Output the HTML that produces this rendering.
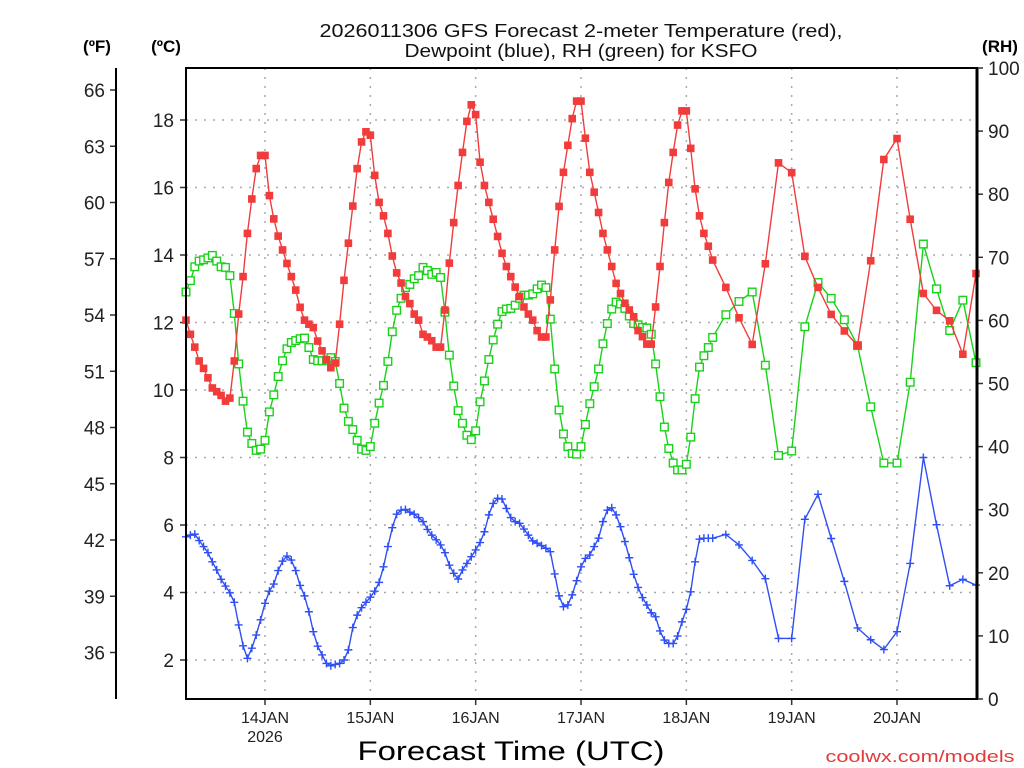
<!DOCTYPE html>
<html><head><meta charset="utf-8"><title>KSFO GFS meteogram</title>
<style>
html,body{margin:0;padding:0;background:#fff;}
svg{display:block;font-family:"Liberation Sans",sans-serif;}
</style></head>
<body>
<svg id="chart" width="1024" height="768" viewBox="0 0 1024 768" xmlns="http://www.w3.org/2000/svg">
  <rect x="0" y="0" width="1024" height="768" fill="#fff"/>
  <g id="grid"></g>
  <g id="axes"></g>
  <g id="series"></g>
  <rect x="186" y="68" width="791" height="631" fill="none" stroke="#000" stroke-width="2"/>
  <line x1="977" y1="68" x2="977" y2="699" stroke="#000" stroke-width="3"/>
  <line x1="116" y1="68" x2="116" y2="699" stroke="#000" stroke-width="2"/>
  <text x="581" y="37" font-size="18" text-anchor="middle" textLength="523" lengthAdjust="spacingAndGlyphs" fill="#111">2026011306 GFS Forecast 2-meter Temperature (red),</text>
  <text x="581" y="57" font-size="18" text-anchor="middle" textLength="353" lengthAdjust="spacingAndGlyphs" fill="#111">Dewpoint (blue), RH (green) for KSFO</text>
  <text x="97" y="52" font-size="17" font-weight="bold" text-anchor="middle">(ºF)</text>
  <text x="166" y="52" font-size="17" font-weight="bold" text-anchor="middle">(ºC)</text>
  <text x="1000" y="52" font-size="17" font-weight="bold" text-anchor="middle">(RH)</text>
  <text x="511" y="760" font-size="27" text-anchor="middle" textLength="307" lengthAdjust="spacingAndGlyphs" fill="#000">Forecast Time (UTC)</text>
  <text x="920" y="762" font-size="17" text-anchor="middle" textLength="189" lengthAdjust="spacingAndGlyphs" fill="#e03a3a">coolwx.com/models</text>
</svg>
<script>
// ---- data ----
const dayLabels = ["14JAN","15JAN","16JAN","17JAN","18JAN","19JAN","20JAN"];
const dayHours = [18,42,66,90,114,138,162];
const celsiusTicks = [2,4,6,8,10,12,14,16,18];
const fahrenheitTicks = [36,39,42,45,48,51,54,57,60,63,66];
const rhTicks = [0,10,20,30,40,50,60,70,80,90,100];
const hourlyEnd = 120;
const lastHour = 180;
const tempC = [12.07,11.65,11.27,10.86,10.64,10.36,10.06,9.95,9.84,9.67,9.76,10.86,12.25,13.36,14.64,15.66,16.56,16.95,16.95,15.76,15.07,14.56,14.15,13.75,13.36,12.96,12.45,12.07,11.95,11.85,11.45,11.16,10.9,10.66,10.8,11.95,13.25,14.35,15.45,16.56,17.35,17.65,17.55,16.36,15.56,15.16,14.64,
13.97,13.47,13.17,12.77,12.56,12.25,12.07,11.65,11.57,11.46,11.27,11.27,12.37,13.76,14.96,16.06,17.04,17.96,18.45,18.16,16.75,16.06,15.56,15.06,14.55,14.05,13.66,13.36,13.05,12.77,12.46,12.25,12.07,11.76,11.57,11.57,12.67,14.15,15.44,16.45,17.25,18.04,18.56,18.56,17.46,16.45,15.86,15.26,14.64,14.15,13.66,13.16,12.86,12.57,12.37,12.17,11.76,11.58,11.36,11.36,12.46,13.66,14.96,16.15,17.04,17.85,18.27,18.27,17.16,15.96,15.16,14.64,14.26,13.85,
13.04,12.14,11.35,13.74,16.73,16.44,13.96,13.04,12.24,11.75,11.32,13.83,16.83,17.45,15.06,12.86,12.36,12.05,11.06,13.45];
const dewpointC = [5.65,5.70,5.73,5.54,5.36,5.18,4.91,4.67,4.39,4.19,
3.99,3.71,3.04,2.42,2.05,2.35,2.74,3.19,3.68,4.04,
4.25,4.65,4.93,5.08,4.96,4.65,4.21,3.90,3.43,2.84,
2.41,2.15,1.90,1.83,1.87,1.90,2.00,2.30,2.96,3.33,
3.55,3.71,3.86,4.04,4.30,4.76,5.36,5.92,6.32,6.44,
6.46,6.38,6.32,6.22,6.10,5.87,5.70,5.56,5.41,5.18,
4.81,4.57,4.40,4.67,4.86,5.06,5.26,5.48,5.80,6.30,
6.64,6.79,6.77,6.49,6.22,6.10,6.05,5.88,5.70,5.53,
5.46,5.39,5.31,5.21,4.55,3.90,3.58,3.63,3.93,4.35,
4.76,5.01,5.11,5.36,5.61,6.10,6.44,6.51,6.30,5.95,
5.51,5.03,4.54,4.15,3.85,3.63,3.40,3.28,2.86,2.59,
2.49,2.49,2.71,3.13,3.50,4.02,4.91,5.58,5.61,5.61,5.61,
5.72,5.41,4.95,4.41,2.64,2.64,6.17,6.91,5.60,4.33,2.95,2.60,2.31,2.84,4.86,8.0,6.01,4.20,4.39,4.22];
const relHum = [64.5,66.3,68.5,69.4,69.6,69.9,70.3,69.4,68.5,68.4,
67.1,61.1,53.1,47.2,42.3,40.5,39.4,39.6,41.0,45.5,
48.2,51.1,53.6,55.5,56.5,56.8,57.1,57.2,55.7,53.8,
53.6,53.6,53.7,54.1,53.5,50.0,46.1,44.0,42.7,41.0,
39.6,39.4,40.0,43.7,46.9,49.7,53.5,58.2,61.6,63.5,
65.2,65.7,66.6,67.1,68.4,67.9,67.3,67.6,66.8,61.3,
54.5,49.6,45.7,43.7,41.8,41.1,42.5,47.1,50.4,53.8,
56.9,59.4,61.4,61.8,61.9,62.4,63.5,64.0,64.0,64.2,
65.0,65.6,65.2,60.2,52.3,45.8,42.0,40.0,38.9,38.8,
40.0,43.5,46.8,49.5,52.3,56.3,59.5,61.8,62.9,62.6,
61.9,60.7,59.5,59.3,58.9,58.8,57.8,53.1,47.9,43.1,
39.7,37.4,36.3,36.3,37.2,41.5,47.6,52.6,54.4,55.7,57.3,
60.9,63.0,64.5,52.9,38.6,39.3,59.0,66.0,63.5,60.1,56.0,46.3,37.4,37.4,50.2,72.1,65.0,58.4,63.2,53.3];

// forecast hours: hourly to 120, then every 3 h
const hours = [];
for (let h = 0; h <= hourlyEnd; h++) hours.push(h);
for (let h = hourlyEnd + 3; h <= lastHour; h += 3) hours.push(h);

// ---- scales ----
const PX0 = 186, PX1 = 976, PY0 = 68, PY1 = 699;
const xOf = h => 265 + (h - 18) * 4.389;
const yC = t => 727.5 - 33.75 * t;
const yRH = r => 699 - 6.31 * r;
const yF = f => yC((f - 32) / 1.8);

const NS = "http://www.w3.org/2000/svg";
function mk(tag, attrs, parent) {
  const e = document.createElementNS(NS, tag);
  for (const k in attrs) e.setAttribute(k, attrs[k]);
  parent.appendChild(e);
  return e;
}
const grid = document.getElementById('grid');
const axes = document.getElementById('axes');
const series = document.getElementById('series');

// horizontal grid + celsius ticks
celsiusTicks.forEach(t => {
  const y = yC(t);
  const g = mk('line', {x1: PX0, x2: PX1, y1: y, y2: y, stroke: '#aaa', 'stroke-width': 1.5, 'stroke-dasharray': '2,7'}, grid);
  
  
  const tk = mk('line', {x1: 180, x2: 186, y1: y, y2: y, stroke: '#333', 'stroke-width': 1.5}, axes);
  
  
  const tx = mk('text', {x: 174, y: y + 7, 'font-size': 19, 'text-anchor': 'end', fill: '#222'}, axes);
  tx.textContent = t;
  
  
});
// fahrenheit ticks
fahrenheitTicks.forEach(f => {
  const y = yF(f);
  const tk = mk('line', {x1: 110, x2: 116, y1: y, y2: y, stroke: '#333', 'stroke-width': 1.5}, axes);
  
  
  const tx = mk('text', {x: 105, y: y + 7, 'font-size': 19, 'text-anchor': 'end', fill: '#222'}, axes);
  tx.textContent = f;
  
  
});
// RH ticks
rhTicks.forEach(r => {
  const y = yRH(r);
  const tk = mk('line', {x1: 977, x2: 983, y1: y, y2: y, stroke: '#333', 'stroke-width': 1.5}, axes);
  
  
  const tx = mk('text', {x: 988, y: y + 7, 'font-size': 19, 'text-anchor': 'start', fill: '#222'}, axes);
  tx.textContent = r;
  
  
});
// vertical grid + day labels
dayHours.forEach((h, i) => {
  const x = xOf(h);
  const g = mk('line', {x1: x, x2: x, y1: PY0, y2: PY1, stroke: '#aaa', 'stroke-width': 1.5, 'stroke-dasharray': '2,7'}, grid);
  
  
  const tk = mk('line', {x1: x, x2: x, y1: PY1, y2: PY1 + 6, stroke: '#333', 'stroke-width': 1.5}, axes);
  
  
  const tx = mk('text', {x: x, y: 723, 'font-size': 16, 'text-anchor': 'middle', fill: '#222'}, axes);
  tx.textContent = dayLabels[i];
  
  
});
const yr = mk('text', {x: xOf(dayHours[0]), y: 742, 'font-size': 16, 'text-anchor': 'middle', fill: '#222'}, axes);
yr.textContent = '2026';



function drawSeries(vals, yf, color, kind, name) {
  const g = mk('g', {}, series);
  
  
  const n = Math.min(vals.length, hours.length);
  let d = '';
  for (let i = 0; i < n; i++) d += (i ? 'L' : 'M') + xOf(hours[i]).toFixed(1) + ',' + yf(vals[i]).toFixed(1);
  const p = mk('path', {d: d, fill: 'none', stroke: color, 'stroke-width': 1.4}, g);
  
  
  for (let i = 0; i < n; i++) {
    const x = xOf(hours[i]), y = yf(vals[i]);
    let m;
    if (kind === 'filled') m = mk('rect', {x: x - 3.8, y: y - 3.8, width: 7.6, height: 7.6, fill: color}, g);
    else if (kind === 'open') m = mk('rect', {x: x - 3.8, y: y - 3.8, width: 7.6, height: 7.6, fill: '#fff', stroke: color, 'stroke-width': 1.4}, g);
    else m = mk('path', {d: `M${x - 4},${y}H${x + 4}M${x},${y - 4}V${y + 4}`, stroke: color, 'stroke-width': 1.4, fill: 'none'}, g);
    
    
  }
}
drawSeries(relHum, yRH, '#19d219', 'open', 'rh');
drawSeries(dewpointC, yC, '#2f4ff5', 'plus', 'dewpoint');
drawSeries(tempC, yC, '#f23c3c', 'filled', 'temperature');
</script>
</body></html>
